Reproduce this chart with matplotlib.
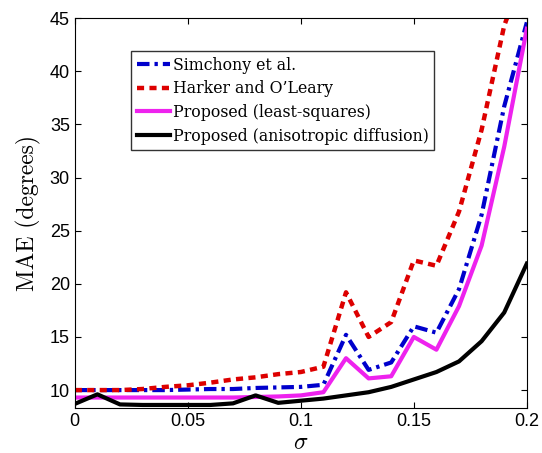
import numpy as np
import matplotlib.pyplot as plt

sigma = np.round(np.arange(0, 0.201, 0.01), 2)

simchony = [10.0, 10.0, 10.0, 10.0, 10.0, 10.05, 10.1, 10.1, 10.2, 10.25, 10.3, 10.5,
            15.2, 11.9, 12.6, 16.0, 15.4, 19.5, 26.5, 36.7, 44.6]
harker = [10.0, 10.0, 10.0, 10.1, 10.3, 10.45, 10.7, 11.0, 11.2, 11.5, 11.7, 12.2,
          19.2, 15.0, 16.4, 22.2, 21.7, 26.8, 34.5, 44.3, 50.0]
ls_prop = [9.3, 9.3, 9.3, 9.3, 9.3, 9.3, 9.3, 9.3, 9.35, 9.4, 9.5, 9.8,
           13.0, 11.1, 11.3, 15.0, 13.8, 17.9, 23.6, 32.9, 44.0]
aniso = [8.7, 9.6, 8.65, 8.6, 8.6, 8.6, 8.6, 8.75, 9.5, 8.8, 9.0, 9.2,
         9.5, 9.8, 10.3, 11.0, 11.7, 12.7, 14.6, 17.3, 21.9]

labels = ['Simchony et al.', "Harker and O\u2019Leary",
          'Proposed (least-squares)', 'Proposed (anisotropic diffusion)']

plt.rcParams['mathtext.fontset'] = 'cm'
fig = plt.figure(figsize=(5.42, 4.53), dpi=100)
ax = fig.add_axes([0.138, 0.099, 0.834, 0.861])

ax.plot(sigma, simchony, color='#0000cc', lw=3, ls=(0, (3, 1.2, 0.8, 1.2)), label=labels[0])
ax.plot(sigma, harker, color='#dd0000', lw=3.2, ls=(0, (1.6, 1.2)), label=labels[1])
ax.plot(sigma, ls_prop, color='#ee22ee', lw=3, label=labels[2])
ax.plot(sigma, aniso, color='black', lw=3, label=labels[3])

ax.set_xlim(0, 0.2)
ax.set_ylim(8.3, 45)
ax.set_xticks([0, 0.05, 0.1, 0.15, 0.2])
ax.set_xticklabels(['0', '0.05', '0.1', '0.15', '0.2'])
ax.set_yticks([10, 15, 20, 25, 30, 35, 40, 45])
ax.tick_params(direction='in', top=True, right=True, labelsize=13, length=4)
for t in ax.get_xticklabels() + ax.get_yticklabels():
    t.set_family('Liberation Sans')

ax.set_ylabel('MAE (degrees)', family='cmr10', fontsize=17, labelpad=6)
ax.set_xlabel(r'$\sigma$', fontsize=17, labelpad=0)

leg = ax.legend(loc='upper left', bbox_to_anchor=(0.125, 0.915), prop={'family': 'DejaVu Serif', 'size': 11.3},
                frameon=True, fancybox=False, handlelength=2.1, handletextpad=0.2,
                borderpad=0.35, labelspacing=0.42, borderaxespad=0)
leg.get_frame().set_edgecolor('black')
leg.get_frame().set_linewidth(1)

fig.savefig('out.png', dpi=100)
